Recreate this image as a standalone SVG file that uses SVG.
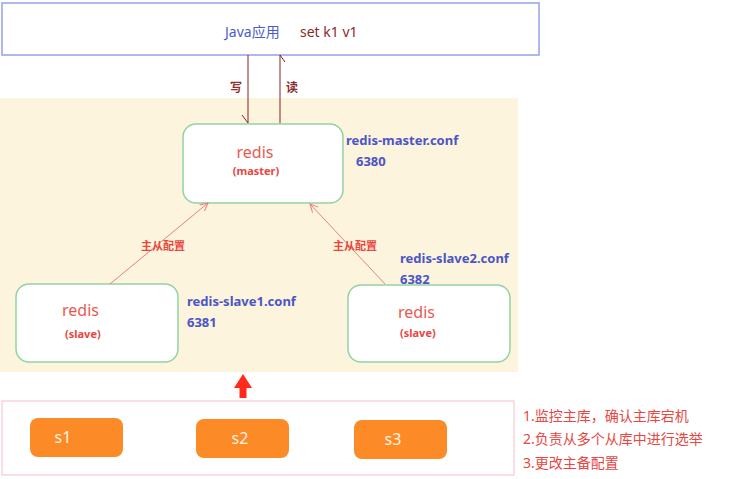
<svg xmlns="http://www.w3.org/2000/svg" width="731" height="479" viewBox="0 0 731 479">
<defs>
<style>
text{font-family:"Noto Sans","Noto Sans CJK SC",sans-serif}
.node{fill:#fff;stroke:#93d3a2;stroke-width:1.5}
.redis{fill:#e85a4f;font-size:16px}
.role{fill:#e8463f;font-size:11px;font-weight:bold}
.conf{fill:#4b55c8;font-size:13px;font-weight:bold}
.ms{fill:#e8463f;font-size:11px;font-weight:bold}
.sent{fill:#fc8a26}
.stxt{fill:#fff3e0;font-size:16px;text-anchor:middle}
.note{fill:#e8463f;font-size:14px}
.rw{stroke:#8b2020;stroke-width:1;fill:none}
.rep{stroke:#e8807a;stroke-width:1;fill:none}
.rwl{font-size:12px;fill:#8b3030;font-weight:bold}
</style>
<marker id="open" markerWidth="10" markerHeight="10" refX="8" refY="5" orient="auto" markerUnits="userSpaceOnUse">
<path d="M0,1 L8,5 L0,9" fill="none" stroke="#e8807a" stroke-width="1"/>
</marker>
</defs>
<rect x="0" y="0" width="731" height="479" fill="#fff"/>
<rect id="cluster" x="0" y="98" width="518" height="274" fill="#fcf4dc"/>
<g id="app">
<rect x="2" y="3" width="537" height="52" fill="#fff" stroke="#97a0e6" stroke-width="1.5"/>
<text x="225" y="37" font-size="14" fill="#4a5cc8">Java应用</text>
<text x="300" y="37" font-size="14" fill="#8b2a2a">set k1 v1</text>
</g>
<g id="master">
<rect class="node" x="183" y="124" width="160" height="79" rx="13"/>
<text class="redis" x="255" y="158" text-anchor="middle">redis</text>
<text class="role" x="256" y="175" text-anchor="middle">(master)</text>
<text class="conf" x="346" y="145">redis-master.conf</text>
<text class="conf" x="356" y="166">6380</text>
</g>
<g id="slave1">
<rect class="node" x="16" y="284" width="162" height="78" rx="13"/>
<text class="redis" x="62" y="316">redis</text>
<text class="role" x="65" y="338">(slave)</text>
<text class="conf" x="187" y="306">redis-slave1.conf</text>
<text class="conf" x="187" y="327">6381</text>
</g>
<g id="slave2">
<rect class="node" x="348" y="285" width="162" height="77" rx="13"/>
<text class="redis" x="398" y="318">redis</text>
<text class="role" x="400" y="337">(slave)</text>
<text class="conf" x="400" y="263">redis-slave2.conf</text>
<text class="conf" x="400" y="284">6382</text>
</g>
<g id="sentinels">
<rect x="2" y="401" width="512" height="74" fill="#fff" stroke="#f3cbd6" stroke-width="1.2"/>
<g id="s1"><rect class="sent" x="30" y="418" width="93" height="39" rx="8"/><text class="stxt" x="63" y="443">s1</text></g>
<g id="s2"><rect class="sent" x="196" y="419" width="93" height="39" rx="8"/><text class="stxt" x="240" y="444">s2</text></g>
<g id="s3"><rect class="sent" x="354" y="420" width="93" height="39" rx="8"/><text class="stxt" x="393" y="445">s3</text></g>
</g>
<g id="notes">
<text class="note" x="523" y="421">1.监控主库，确认主库宕机</text>
<text class="note" x="523" y="444">2.负责从多个从库中进行选举</text>
<text class="note" x="523" y="468">3.更改主备配置</text>
</g>
<g id="connectors">
<path class="rw" d="M248,55 V123 M248,123 L242,115"/>
<path class="rw" d="M280,123 V55 M280,55 L285,62"/>
<text class="rwl" x="230" y="92">写</text>
<text class="rwl" x="286" y="92">读</text>
<line class="rep" x1="110" y1="284" x2="208" y2="203" marker-end="url(#open)"/>
<line class="rep" x1="385" y1="284" x2="310" y2="204" marker-end="url(#open)"/>
<text class="ms" x="141" y="250">主从配置</text>
<text class="ms" x="333" y="250">主从配置</text>
<polygon points="243,374 252,388 246.5,388 246.5,398 239.5,398 239.5,388 234,388" fill="#ff2a1a"/>
</g>
</svg>
